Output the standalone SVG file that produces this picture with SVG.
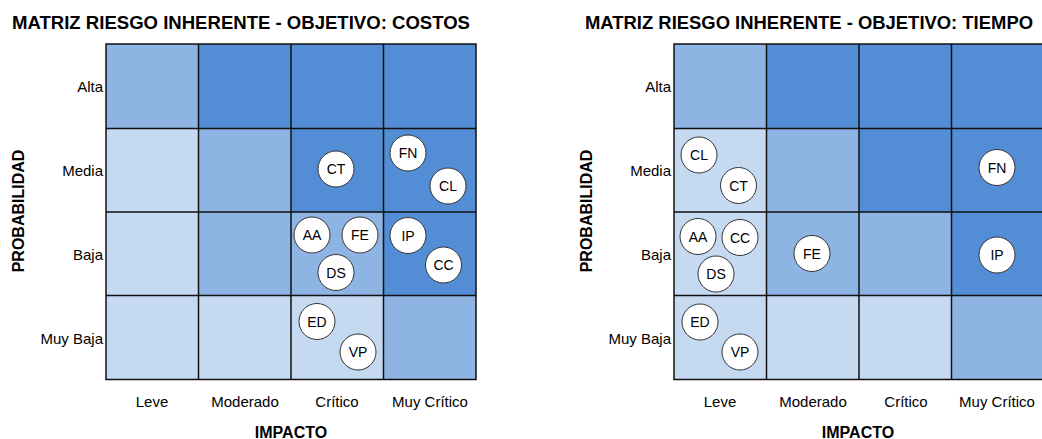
<svg xmlns="http://www.w3.org/2000/svg" width="1042" height="439" viewBox="0 0 1042 439">
<style>
.t{font-family:"Liberation Sans",Arial,sans-serif;font-weight:bold;font-size:18.4px;fill:#000}
.lab{font-family:"Liberation Sans",Arial,sans-serif;font-size:15px;fill:#000}
.ax{font-family:"Liberation Sans",Arial,sans-serif;font-weight:bold;font-size:16px;fill:#000}
.d{fill:#538dd5}.m{fill:#8eb4e3}.l{fill:#c5d9f1}
.g{stroke:#111;stroke-width:1.5;fill:none}
.n circle{fill:#fff;stroke:#333;stroke-width:1}
.n text{font-family:"Liberation Sans",Arial,sans-serif;font-size:14px;fill:#000;text-anchor:middle;dominant-baseline:central}
</style>
<rect width="1042" height="439" fill="#fff"/>
<!-- LEFT MATRIX -->
<g id="matrix-costos">
<text class="t" x="12" y="29" textLength="458" lengthAdjust="spacingAndGlyphs">MATRIZ RIESGO INHERENTE - OBJETIVO: COSTOS</text>
<rect class="m" x="106" y="44" width="92.5" height="84.5"/>
<rect class="d" x="198.5" y="44" width="92.5" height="84.5"/>
<rect class="d" x="291" y="44" width="92.5" height="84.5"/>
<rect class="d" x="383.5" y="44" width="92.5" height="84.5"/>
<rect class="l" x="106" y="128.5" width="92.5" height="83.5"/>
<rect class="m" x="198.5" y="128.5" width="92.5" height="83.5"/>
<rect class="d" x="291" y="128.5" width="92.5" height="83.5"/>
<rect class="d" x="383.5" y="128.5" width="92.5" height="83.5"/>
<rect class="l" x="106" y="212" width="92.5" height="83.5"/>
<rect class="m" x="198.5" y="212" width="92.5" height="83.5"/>
<rect class="m" x="291" y="212" width="92.5" height="83.5"/>
<rect class="d" x="383.5" y="212" width="92.5" height="83.5"/>
<rect class="l" x="106" y="295.5" width="92.5" height="84"/>
<rect class="l" x="198.5" y="295.5" width="92.5" height="84"/>
<rect class="l" x="291" y="295.5" width="92.5" height="84"/>
<rect class="m" x="383.5" y="295.5" width="92.5" height="84"/>
<path class="g" d="M106 44H476V379.5H106Z M198.5 44V379.5 M291 44V379.5 M383.5 44V379.5 M106 128.5H476 M106 212H476 M106 295.5H476"/>
<g class="lab" text-anchor="end" dominant-baseline="central">
<text x="103" y="86">Alta</text>
<text x="103" y="170">Media</text>
<text x="103" y="254">Baja</text>
<text x="103" y="338">Muy Baja</text>
</g>
<g class="lab" text-anchor="middle" dominant-baseline="central">
<text x="152" y="401">Leve</text>
<text x="245" y="401">Moderado</text>
<text x="337" y="401">Crítico</text>
<text x="430" y="401">Muy Crítico</text>
</g>
<text class="ax" x="291" y="432" text-anchor="middle" dominant-baseline="central">IMPACTO</text>
<text class="ax" transform="translate(18 211) rotate(-90)" text-anchor="middle" dominant-baseline="central">PROBABILIDAD</text>
</g>
<g id="nodes-costos">
<g id="c-CT" class="n"><circle cx="336" cy="169" r="18"/><text x="336" y="169">CT</text></g>
<g id="c-FN" class="n"><circle cx="408" cy="153" r="18"/><text x="408" y="153">FN</text></g>
<g id="c-CL" class="n"><circle cx="448" cy="186" r="18"/><text x="448" y="186">CL</text></g>
<g id="c-AA" class="n"><circle cx="312" cy="235" r="18"/><text x="312" y="235">AA</text></g>
<g id="c-FE" class="n"><circle cx="360" cy="235" r="18"/><text x="360" y="235">FE</text></g>
<g id="c-DS" class="n"><circle cx="336" cy="272.5" r="18"/><text x="336" y="272.5">DS</text></g>
<g id="c-IP" class="n"><circle cx="408" cy="235.5" r="18"/><text x="408" y="235.5">IP</text></g>
<g id="c-CC" class="n"><circle cx="443.5" cy="265" r="18"/><text x="443.5" y="265">CC</text></g>
<g id="c-ED" class="n"><circle cx="317" cy="321.5" r="18"/><text x="317" y="321.5">ED</text></g>
<g id="c-VP" class="n"><circle cx="358" cy="352" r="18"/><text x="358" y="352">VP</text></g>
</g>
<!-- RIGHT MATRIX -->
<g id="matrix-tiempo">
<text class="t" x="585" y="29" textLength="448" lengthAdjust="spacingAndGlyphs">MATRIZ RIESGO INHERENTE - OBJETIVO: TIEMPO</text>
<rect class="m" x="674" y="44" width="92.5" height="84.5"/>
<rect class="d" x="766.5" y="44" width="92.5" height="84.5"/>
<rect class="d" x="859" y="44" width="92.5" height="84.5"/>
<rect class="d" x="951.5" y="44" width="92.5" height="84.5"/>
<rect class="l" x="674" y="128.5" width="92.5" height="83.5"/>
<rect class="m" x="766.5" y="128.5" width="92.5" height="83.5"/>
<rect class="d" x="859" y="128.5" width="92.5" height="83.5"/>
<rect class="d" x="951.5" y="128.5" width="92.5" height="83.5"/>
<rect class="l" x="674" y="212" width="92.5" height="83.5"/>
<rect class="m" x="766.5" y="212" width="92.5" height="83.5"/>
<rect class="m" x="859" y="212" width="92.5" height="83.5"/>
<rect class="d" x="951.5" y="212" width="92.5" height="83.5"/>
<rect class="l" x="674" y="295.5" width="92.5" height="84"/>
<rect class="l" x="766.5" y="295.5" width="92.5" height="84"/>
<rect class="l" x="859" y="295.5" width="92.5" height="84"/>
<rect class="m" x="951.5" y="295.5" width="92.5" height="84"/>
<path class="g" d="M674 44H1044V379.5H674Z M766.5 44V379.5 M859 44V379.5 M951.5 44V379.5 M674 128.5H1044 M674 212H1044 M674 295.5H1044"/>
<g class="lab" text-anchor="end" dominant-baseline="central">
<text x="671" y="86">Alta</text>
<text x="671" y="170">Media</text>
<text x="671" y="254">Baja</text>
<text x="671" y="338">Muy Baja</text>
</g>
<g class="lab" text-anchor="middle" dominant-baseline="central">
<text x="720" y="401">Leve</text>
<text x="813" y="401">Moderado</text>
<text x="906" y="401">Crítico</text>
<text x="997" y="401">Muy Crítico</text>
</g>
<text class="ax" x="858" y="432" text-anchor="middle" dominant-baseline="central">IMPACTO</text>
<text class="ax" transform="translate(586 211) rotate(-90)" text-anchor="middle" dominant-baseline="central">PROBABILIDAD</text>
</g>
<g id="nodes-tiempo">
<g id="t-CL" class="n"><circle cx="699" cy="155" r="18"/><text x="699" y="155">CL</text></g>
<g id="t-CT" class="n"><circle cx="738.5" cy="185.5" r="18"/><text x="738.5" y="185.5">CT</text></g>
<g id="t-FN" class="n"><circle cx="997" cy="167.5" r="18"/><text x="997" y="167.5">FN</text></g>
<g id="t-AA" class="n"><circle cx="698" cy="236.5" r="18"/><text x="698" y="236.5">AA</text></g>
<g id="t-CC" class="n"><circle cx="740" cy="237.5" r="18"/><text x="740" y="237.5">CC</text></g>
<g id="t-DS" class="n"><circle cx="716" cy="274" r="18"/><text x="716" y="274">DS</text></g>
<g id="t-FE" class="n"><circle cx="812" cy="253.5" r="18"/><text x="812" y="253.5">FE</text></g>
<g id="t-IP" class="n"><circle cx="997" cy="255" r="18"/><text x="997" y="255">IP</text></g>
<g id="t-ED" class="n"><circle cx="700" cy="322" r="18"/><text x="700" y="322">ED</text></g>
<g id="t-VP" class="n"><circle cx="740" cy="352" r="18"/><text x="740" y="352">VP</text></g>
</g>
<g id="connectors"/>
</svg>
